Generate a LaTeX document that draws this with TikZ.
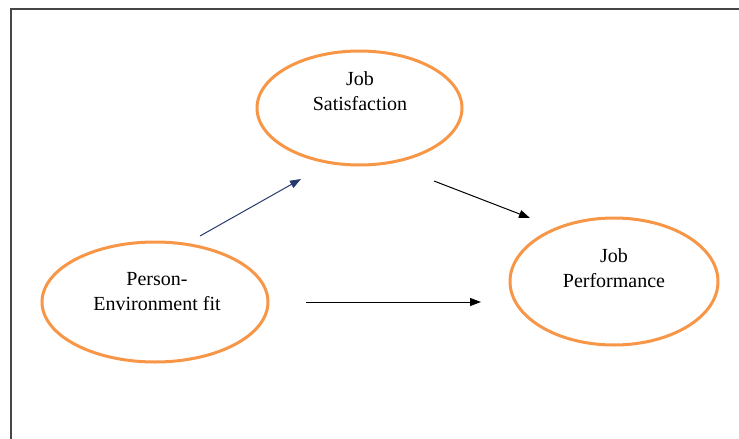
\documentclass[tikz,border=0pt]{standalone}
\usepackage{fontspec}
\setmainfont{Liberation Serif}
\usetikzlibrary{shapes.geometric,arrows.meta}
\definecolor{ovalorange}{RGB}{246,150,70}
\definecolor{navyarrow}{RGB}{38,58,110}
\definecolor{framegray}{RGB}{70,70,70}
\tikzset{
  oval/.style={ellipse, draw=ovalorange, line width=3pt, inner sep=0pt},
  lbl/.style={align=center, inner sep=0pt, font=\fontsize{20}{25}\selectfont},
  conn/.style={line width=1pt, -{Triangle[length=11pt,width=8pt]}},
}
\begin{document}
\begin{tikzpicture}[x=1pt,y=-1pt]
\useasboundingbox (0,0) rectangle (739,439);
\draw[framegray, line width=1.6pt] (11,439) -- (11,9) -- (739,9);

\node[oval, minimum width=205pt, minimum height=114pt] (js) at (359.5,108) {};
\node[oval, minimum width=226pt, minimum height=120pt] (pe) at (155,302) {};
\node[oval, minimum width=208pt, minimum height=127pt] (jp) at (614,281.5) {};

\node[lbl] (jst) at (360,91) {Job\\Satisfaction};
\node[lbl] (pet) at (157,292) {Person-\\Environment fit};
\node[lbl] (jpt) at (614,268) {Job\\Performance};

\coordinate (a1) at (200,236);
\coordinate (a2) at (301,179);
\coordinate (b1) at (434,181);
\coordinate (b2) at (530,218);
\coordinate (c1) at (306,302);
\coordinate (c2) at (481,302);

\draw[conn, navyarrow] (a1) -- (a2);
\draw[conn, black] (b1) -- (b2);
\draw[conn, black] (c1) -- (c2);
\end{tikzpicture}
\end{document}
